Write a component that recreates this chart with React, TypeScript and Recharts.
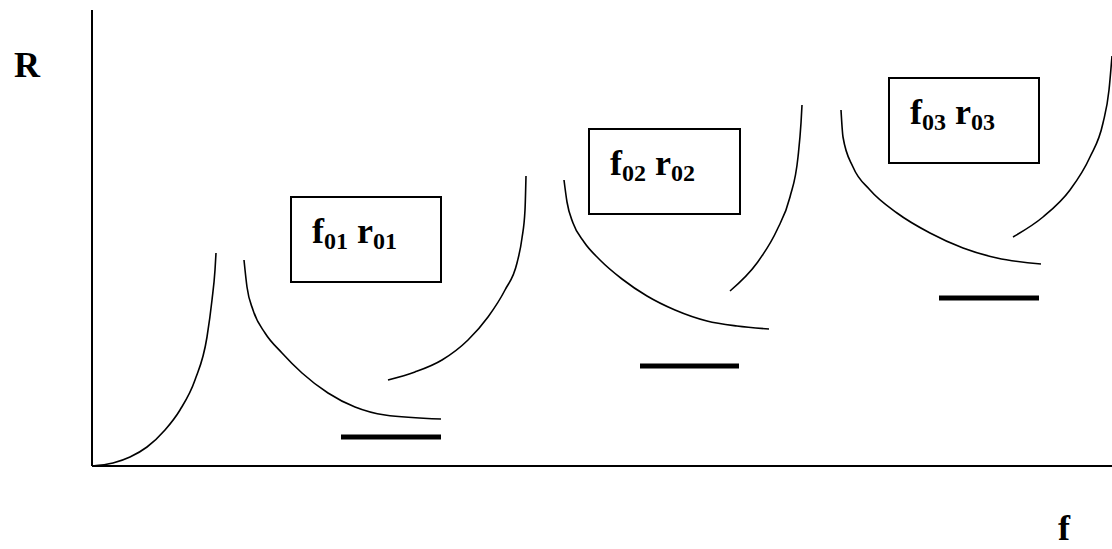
import { LineChart, Line, XAxis, YAxis, ReferenceArea, Label } from "recharts";

// f (horizontal) and R (vertical) values
const riseToFirst = [
  { f: 0, r: 0 }, { f: 21, r: 3 }, { f: 38, r: 9 }, { f: 55, r: 19 }, { f: 73, r: 36 },
  { f: 88, r: 56 }, { f: 103, r: 86 }, { f: 115, r: 129 }, { f: 120, r: 166 },
  { f: 123, r: 196 }, { f: 124, r: 213 },
];
const fallFirst = [
  { f: 152, r: 206 }, { f: 155, r: 179 }, { f: 161, r: 156 }, { f: 173, r: 133 },
  { f: 190, r: 113 }, { f: 210, r: 93 }, { f: 236, r: 73 }, { f: 263, r: 59 },
  { f: 293, r: 51 }, { f: 349, r: 47 },
];
const riseSecond = [
  { f: 296, r: 86 }, { f: 323, r: 94 }, { f: 350, r: 106 }, { f: 376, r: 126 },
  { f: 396, r: 149 }, { f: 413, r: 176 }, { f: 425, r: 203 }, { f: 430, r: 228 },
  { f: 433, r: 256 }, { f: 434, r: 290 },
];
const fallSecond = [
  { f: 472, r: 286 }, { f: 475, r: 264 }, { f: 481, r: 243 }, { f: 492, r: 224 },
  { f: 508, r: 206 }, { f: 530, r: 187 }, { f: 555, r: 170 }, { f: 583, r: 156 },
  { f: 615, r: 145 }, { f: 645, r: 140 }, { f: 677, r: 137 },
];
const riseThird = [
  { f: 638, r: 175 }, { f: 665, r: 203 }, { f: 685, r: 236 }, { f: 698, r: 269 },
  { f: 706, r: 309 }, { f: 709, r: 343 }, { f: 710, r: 361 },
];
const fallThird = [
  { f: 749, r: 356 }, { f: 751, r: 329 }, { f: 761, r: 299 }, { f: 778, r: 276 },
  { f: 805, r: 253 }, { f: 838, r: 233 }, { f: 871, r: 218 }, { f: 905, r: 208 },
  { f: 949, r: 202 },
];
const riseFourth = [
  { f: 921, r: 229 }, { f: 951, r: 249 }, { f: 978, r: 276 }, { f: 998, r: 309 },
  { f: 1011, r: 343 }, { f: 1017, r: 376 }, { f: 1020, r: 410 },
];

// resistance levels r01..r03 (thick bars)
const level1 = [{ f: 249, r: 29 }, { f: 349, r: 29 }];
const level2 = [{ f: 548, r: 100 }, { f: 647, r: 100 }];
const level3 = [{ f: 847, r: 168 }, { f: 947, r: 168 }];

// label boxes
const boxes = [
  { id: "1", f1: 199, f2: 349, r1: 184, r2: 269 },
  { id: "2", f1: 497, f2: 648, r1: 252, r2: 337 },
  { id: "3", f1: 797, f2: 947, r1: 303, r2: 388 },
];

const curves = [riseToFirst, fallFirst, riseSecond, fallSecond, riseThird, fallThird, riseFourth];
const levels = [level1, level2, level3];

const FONT = "'Liberation Serif', 'Times New Roman', serif";

const BoxText = ({ viewBox, id }: any) => {
  const x = viewBox.x + 21;
  const y = viewBox.y + 46;
  return (
    <text x={x} y={y} fontFamily={FONT} fontWeight="bold" fontSize={36} fill="#000">
      <tspan>f</tspan>
      <tspan fontSize={24} dy={6}>0{id}</tspan>
      <tspan dy={-6}> r</tspan>
      <tspan fontSize={24} dy={6}>0{id}</tspan>
    </text>
  );
};

export default function App() {
  return (
    <div style={{ position: "absolute", left: 0, top: 0, background: "#fff" }}>
      <LineChart width={1112} height={549} margin={{ top: 10, right: 0, bottom: 82, left: 91 }}>
        <XAxis
          type="number"
          dataKey="f"
          domain={[0, 1020]}
          height={1}
          tick={false}
          tickLine={false}
          axisLine={{ stroke: "#000", strokeWidth: 2 }}
        >
          <Label
            content={() => (
              <text x={1058} y={540} fontFamily={FONT} fontWeight="bold" fontSize={36} fill="#000">
                f
              </text>
            )}
          />
        </XAxis>
        <YAxis
          type="number"
          dataKey="r"
          domain={[0, 456]}
          width={1}
          tick={false}
          tickLine={false}
          axisLine={{ stroke: "#000", strokeWidth: 2 }}
        >
          <Label
            content={() => (
              <text x={14} y={77} fontFamily={FONT} fontWeight="bold" fontSize={36} fill="#000">
                R
              </text>
            )}
          />
        </YAxis>
        {boxes.map((b) => (
          <ReferenceArea
            key={b.id}
            x1={b.f1}
            x2={b.f2}
            y1={b.r1}
            y2={b.r2}
            fill="none"
            fillOpacity={0}
            stroke="#000"
            strokeWidth={2}
            label={(p: any) => <BoxText viewBox={p.viewBox} id={b.id} />}
          />
        ))}
        {curves.map((c, i) => (
          <Line
            key={"c" + i}
            data={c}
            dataKey="r"
            type="monotoneX"
            stroke="#000"
            strokeWidth={1.6}
            dot={false}
            activeDot={false}
            isAnimationActive={false}
          />
        ))}
        {levels.map((l, i) => (
          <Line
            key={"l" + i}
            data={l}
            dataKey="r"
            type="linear"
            stroke="#000"
            strokeWidth={5}
            dot={false}
            activeDot={false}
            isAnimationActive={false}
          />
        ))}
      </LineChart>
    </div>
  );
}
